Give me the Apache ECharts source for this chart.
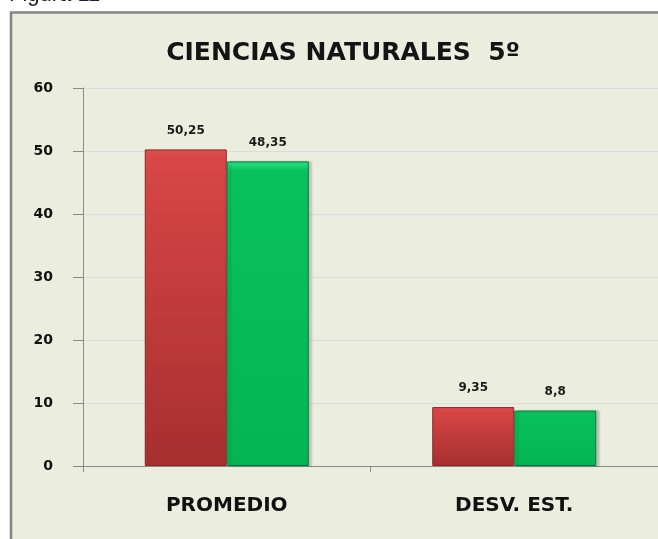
<!DOCTYPE html>
<html>
<head>
<meta charset="utf-8">
<script src="https://cdn.jsdelivr.net/npm/echarts@6/dist/echarts.min.js"></script>
<style>
    html, body { margin: 0; padding: 0; background: #fff; }
    #chart { width: 658px; height: 539px; }
</style>
</head>
<body>
<div id="chart"></div>
<script>
// datos
const categorias = ['PROMEDIO', 'DESV. EST.']
const serieRoja = [50.25, 9.35]
const serieVerde = [48.35, 8.8]
const ticksY = [0, 10, 20, 30, 40, 50, 60]

const chart = echarts.init(document.getElementById('chart'))

const etiqueta = {
    show: true,
    position: 'top',
    distance: 13,
    fontFamily: 'DejaVu Sans',
    fontWeight: 'bold',
    fontSize: 12,
    color: '#1a1a1a',
    formatter: p => String(p.value).replace('.', ',')
}

const option = {
    backgroundColor: '#ffffff',
    animation: false,
    graphic: [
        {
            type: 'rect',
            z: -100,
            shape: { x: 11, y: 12.5, width: 700, height: 600 },
            style: { fill: '#ebeedf', stroke: '#858585', lineWidth: 2.5 }
        },
        {
            type: 'text',
            z: -100,
            x: 9,
            y: 6,
            style: {
                text: 'Figura 11',
                font: '22px "Liberation Sans"',
                fill: '#222',
                verticalAlign: 'bottom'
            }
        }
    ],
    title: {
        text: 'CIENCIAS NATURALES  5º',
        left: 338,
        top: 36,
        textAlign: 'center',
        textStyle: {
            fontFamily: 'DejaVu Sans',
            fontWeight: 'bold',
            fontSize: 25,
            color: '#141414'
        }
    },
    grid: {
        left: 83,
        top: 88,
        right: -8,
        bottom: 73
    },
    xAxis: {
        type: 'category',
        data: categorias,
        axisLine: { lineStyle: { color: '#8a8a8a' } },
        axisTick: { show: true, length: 6, lineStyle: { color: '#8a8a8a' } },
        axisLabel: {
            margin: 30,
            fontFamily: 'DejaVu Sans',
            fontWeight: 'bold',
            fontSize: 20,
            color: '#111'
        }
    },
    yAxis: {
        type: 'value',
        min: ticksY[0],
        max: ticksY[ticksY.length - 1],
        interval: 10,
        axisLine: { show: true, lineStyle: { color: '#8a8a8a' } },
        axisTick: { show: true, length: 10, lineStyle: { color: '#8a8a8a' } },
        splitLine: { lineStyle: { color: '#d6dedd' } },
        axisLabel: {
            margin: 30,
            fontFamily: 'DejaVu Sans',
            fontWeight: 'bold',
            fontSize: 14,
            color: '#111'
        }
    },
    series: [
        {
            name: 'rojo',
            type: 'bar',
            data: serieRoja,
            barWidth: 82,
            barGap: '0%',
            label: etiqueta,
            itemStyle: {
                color: new echarts.graphic.LinearGradient(0, 0, 0, 1, [
                    { offset: 0, color: '#e05050' },
                    { offset: 0.03, color: '#d94646' },
                    { offset: 1, color: '#a62f2f' }
                ]),
                borderColor: '#8a2626',
                borderWidth: 1
            }
        },
        {
            name: 'verde',
            type: 'bar',
            data: serieVerde,
            barWidth: 82,
            label: etiqueta,
            itemStyle: {
                color: new echarts.graphic.LinearGradient(0, 0, 0, 1, [
                    { offset: 0, color: '#2fe688' },
                    { offset: 0.03, color: '#08c15c' },
                    { offset: 1, color: '#04b653' }
                ]),
                borderColor: '#017a3a',
                borderWidth: 1,
                shadowColor: 'rgba(0,0,0,0.18)',
                shadowOffsetX: 3,
                shadowBlur: 2
            }
        }
    ]
}

chart.setOption(option)
</script>
</body>
</html>
